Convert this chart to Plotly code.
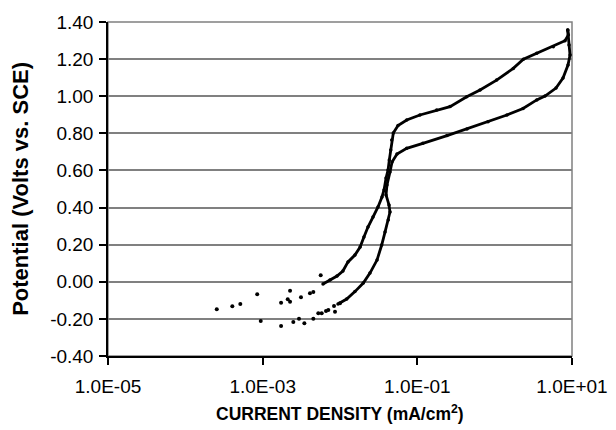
import plotly.graph_objects as go

# Forward scan - scattered points near corrosion potential
fwd_scatter_current = [2.55e-4, 4.05e-4, 5.14e-4, 8.5e-4, 1.73e-3, 2.11e-3, 2.26e-3, 2.26e-3,
                       3.13e-3, 4.09e-3, 4.52e-3, 5.63e-3]
fwd_scatter_potential = [-0.148, -0.132, -0.120, -0.067, -0.113, -0.094, -0.048, -0.107,
                         -0.084, -0.062, -0.055, 0.035]

# Forward scan - dense part
fwd_current = [6.03e-3, 7.43e-3, 9.15e-3, 1.09e-2, 1.27e-2, 1.56e-2, 1.82e-2, 2.04e-2, 2.30e-2,
               2.67e-2, 3.10e-2, 3.49e-2, 3.71e-2, 3.94e-2, 4.18e-2, 4.34e-2, 4.53e-2, 4.66e-2,
               4.89e-2, 5.63e-2, 7.29e-2, 0.108, 0.178, 0.265, 0.435, 0.647, 1.06, 1.74, 2.35,
               3.50, 5.73, 8.12, 8.97, 8.81]
fwd_potential = [-0.012, 0.010, 0.031, 0.058, 0.107, 0.144, 0.187, 0.241, 0.295, 0.349, 0.403,
                 0.457, 0.495, 0.559, 0.602, 0.656, 0.710, 0.764, 0.802, 0.842, 0.872, 0.899,
                 0.926, 0.944, 0.997, 1.034, 1.087, 1.150, 1.199, 1.231, 1.267, 1.299, 1.330, 1.357]

# Reverse scan - dense part
rev_current = [8.81, 9.15, 9.43, 8.88, 7.65, 6.21, 4.48, 3.50, 2.33, 1.44, 0.820, 0.439, 0.242,
               0.118, 7.29e-2, 5.46e-2, 4.71e-2, 4.43e-2, 4.05e-2, 3.94e-2, 4.30e-2, 4.43e-2,
               4.21e-2, 3.82e-2, 3.46e-2, 3.01e-2, 2.44e-2, 2.00e-2, 1.56e-2, 1.22e-2, 9.42e-3]
rev_potential = [1.357, 1.276, 1.222, 1.168, 1.098, 1.044, 1.001, 0.980, 0.934, 0.899, 0.863,
                 0.823, 0.788, 0.746, 0.719, 0.689, 0.646, 0.592, 0.522, 0.468, 0.414, 0.376,
                 0.333, 0.268, 0.198, 0.117, 0.047, -0.007, -0.053, -0.093, -0.120]

# Reverse scan - scattered points
rev_scatter_current = [1.0e-2, 8.62e-3, 8.37e-3, 7.06e-3, 6.59e-3, 5.80e-3, 5.24e-3, 4.52e-3,
                       3.46e-3, 2.95e-3, 2.49e-3, 1.73e-3, 9.44e-4]
rev_scatter_potential = [-0.116, -0.161, -0.131, -0.152, -0.157, -0.170, -0.170, -0.199,
                         -0.224, -0.199, -0.217, -0.238, -0.211]

x_tick_vals = [1e-5, 1e-3, 1e-1, 1e1]
x_tick_text = ["1.0E-05", "1.0E-03", "1.0E-01", "1.0E+01"]
y_tick_vals = [-0.4, -0.2, 0.0, 0.2, 0.4, 0.6, 0.8, 1.0, 1.2, 1.4]
y_tick_text = ["-0.40", "-0.20", "0.00", "0.20", "0.40", "0.60", "0.80", "1.00", "1.20", "1.40"]
x_title = "<b>CURRENT DENSITY (mA/cm<sup>2</sup>)</b>"
y_title = "<b>Potential (Volts vs. SCE)</b>"

FONT = "Liberation Sans, Arial, sans-serif"

fig = go.Figure()
fig.add_trace(go.Scatter(x=fwd_current, y=fwd_potential, mode="lines+markers",
                         line=dict(color="black", width=2.8),
                         marker=dict(color="black", size=3.5), showlegend=False))
fig.add_trace(go.Scatter(x=rev_current, y=rev_potential, mode="lines+markers",
                         line=dict(color="black", width=2.8),
                         marker=dict(color="black", size=3.5), showlegend=False))
fig.add_trace(go.Scatter(x=fwd_scatter_current, y=fwd_scatter_potential, mode="markers",
                         marker=dict(color="black", size=4), showlegend=False))
fig.add_trace(go.Scatter(x=rev_scatter_current, y=rev_scatter_potential, mode="markers",
                         marker=dict(color="black", size=4), showlegend=False))

fig.update_layout(
    width=616, height=430,
    margin=dict(l=108, r=44, t=22, b=74),
    paper_bgcolor="white", plot_bgcolor="white",
    font=dict(family=FONT, color="black"),
    shapes=[dict(type="rect", xref="paper", yref="paper", x0=0, x1=1, y0=0, y1=1,
                 line=dict(color="#808080", width=1.5), layer="below")],
    annotations=[
        dict(text=x_title, xref="paper", yref="paper", x=0.5, y=-0.172,
             xanchor="center", yanchor="middle", showarrow=False,
             font=dict(size=17.5, family=FONT, color="black")),
        dict(text=y_title, xref="paper", yref="paper", x=-0.19, y=0.5,
             xanchor="center", yanchor="middle", showarrow=False, textangle=-90,
             font=dict(size=22, family=FONT, color="black")),
    ],
)
fig.update_xaxes(
    type="log", range=[-5, 1], automargin=False,
    tickvals=x_tick_vals, ticktext=x_tick_text,
    tickfont=dict(size=19, family=FONT),
    ticks="outside", ticklen=7, tickcolor="black", tickwidth=1.5,
    ticklabelstandoff=5,
    showline=True, linecolor="black", linewidth=1.5,
    showgrid=False, zeroline=False,
)
fig.update_yaxes(
    range=[-0.4, 1.4], tickvals=y_tick_vals, ticktext=y_tick_text, automargin=False,
    tickfont=dict(size=19, family=FONT),
    ticks="outside", ticklen=7, tickcolor="black", tickwidth=1.5,
    ticklabelstandoff=2,
    showline=True, linecolor="black", linewidth=1.5,
    showgrid=True, gridcolor="#808080", gridwidth=1.5, zeroline=False,
)

fig.write_html("out.html")
